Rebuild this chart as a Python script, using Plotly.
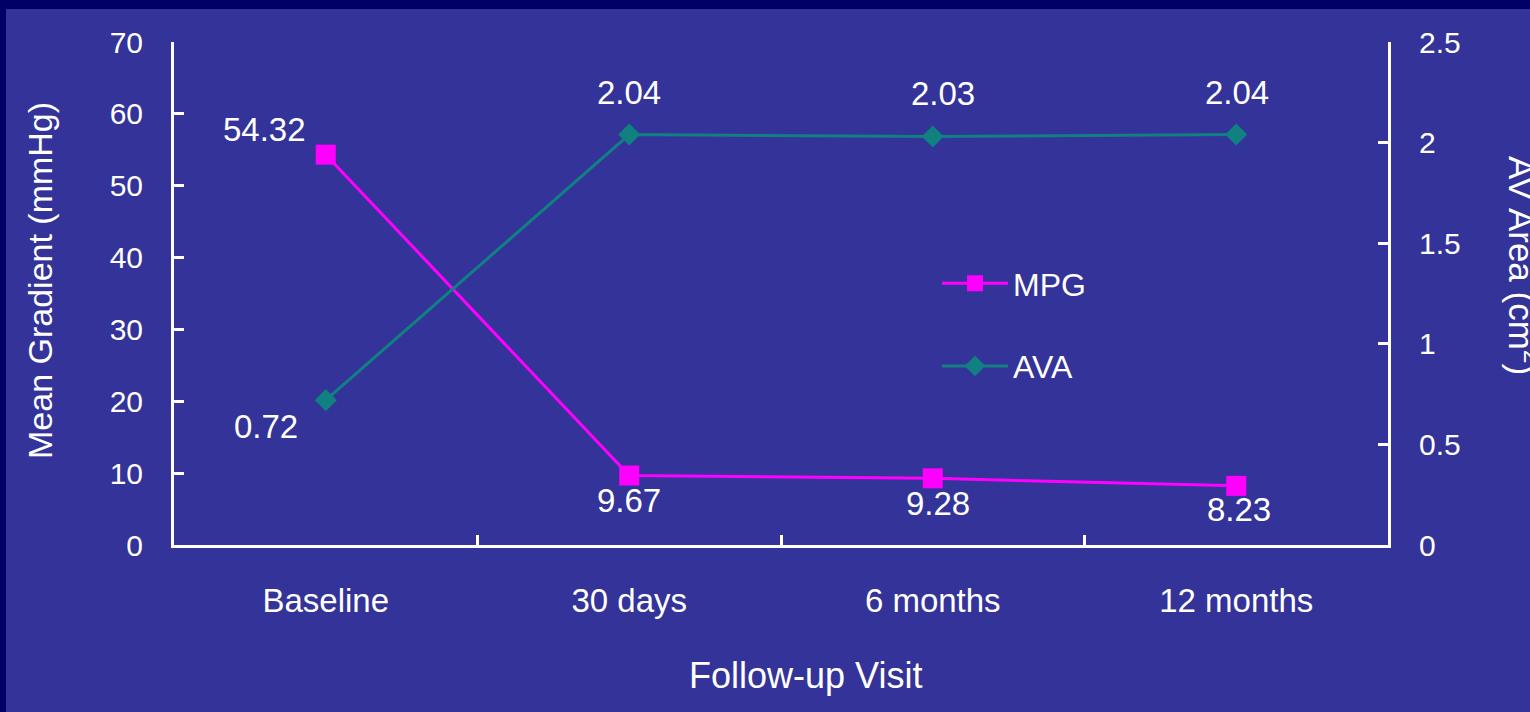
import plotly.graph_objects as go

# Follow-up data
visits = ["Baseline", "30 days", "6 months", "12 months"]
mpg = [54.32, 9.67, 9.28, 8.23]      # mean pressure gradient, mmHg
ava = [0.72, 2.04, 2.03, 2.04]       # aortic valve area, cm^2
mpg_ticks = [0, 10, 20, 30, 40, 50, 60, 70]
ava_ticks = [0, 0.5, 1, 1.5, 2, 2.5]
ava_tick_text = ["0", "0.5", "1", "1.5", "2", "2.5"]

BG = "#333399"
FRAME = "#000066"
MAGENTA = "#FF00FF"
TEAL = "#108080"
FONT = "Liberation Sans, Arial, sans-serif"

W, H = 1530, 712
L, R, T, B = 174, 142, 42, 167
PW, PH = W - L - R, H - T - B

# value-label offsets (pixels) for each point
mpg_label_shift = [(-61, 25), (0, -25), (5, -25), (3, -24)]
ava_label_shift = [(-60, -26), (0, 42), (10, 43), (1, 42)]


def fnt(size):
    return dict(family=FONT, color="white", size=size)


fig = go.Figure()
fig.add_trace(go.Scatter(
    x=visits, y=mpg, name="MPG", mode="lines+markers",
    line=dict(color=MAGENTA, width=3),
    marker=dict(symbol="square", size=20, color=MAGENTA),
    legendgroup="a", yaxis="y", cliponaxis=False,
))
fig.add_trace(go.Scatter(
    x=visits, y=ava, name="AVA", mode="lines+markers",
    line=dict(color=TEAL, width=3),
    marker=dict(symbol="diamond", size=17, color=TEAL),
    legendgroup="b", yaxis="y2", cliponaxis=False,
))

annotations = []
for cat, v, (dx, dy) in zip(visits, mpg, mpg_label_shift):
    annotations.append(dict(x=cat, y=v, xref="x", yref="y", text=f"{v:.2f}",
                            showarrow=False, xshift=dx, yshift=dy, font=fnt(33)))
for cat, v, (dx, dy) in zip(visits, ava, ava_label_shift):
    annotations.append(dict(x=cat, y=v, xref="x", yref="y2", text=f"{v:.2f}",
                            showarrow=False, xshift=dx, yshift=dy, font=fnt(33)))

annotations += [
    dict(text="Mean Gradient (mmHg)", xref="paper", yref="paper",
         x=(40 - L) / PW, y=(545 - 281) / PH, textangle=-90, showarrow=False,
         xanchor="center", yanchor="middle", font=fnt(34)),
    dict(text="AV Area (cm<sup>2</sup>)", xref="paper", yref="paper",
         x=(1524 - L) / PW, y=(545 - 265) / PH, textangle=90, showarrow=False,
         xanchor="center", yanchor="middle", font=fnt(35)),
    dict(text="Follow-up Visit", xref="paper", yref="paper",
         x=(805 - L) / PW, y=(545 - 675) / PH, showarrow=False,
         xanchor="center", yanchor="middle", font=fnt(36)),
]

axis_common = dict(
    showline=True, linecolor="white", linewidth=3,
    ticks="inside", tickcolor="white", tickwidth=3, ticklen=10,
    showgrid=False, zeroline=False,
)

fig.update_layout(
    width=W, height=H,
    margin=dict(l=L, r=R, t=T, b=B),
    paper_bgcolor=BG, plot_bgcolor=BG,
    font=fnt(30),
    showlegend=True,
    legend=dict(
        x=(937 - L) / PW, y=(545 - 256) / PH, xanchor="left", yanchor="top",
        bgcolor="rgba(0,0,0,0)", font=fnt(32),
        tracegroupgap=38, itemwidth=66,
    ),
    xaxis=dict(
        **axis_common, type="category", range=[-0.5, 3.5],
        tickson="boundaries", ticklabelstandoff=24, tickfont=fnt(33),
    ),
    yaxis=dict(
        **axis_common, range=[0, 70], tickvals=mpg_ticks,
        ticklabelstandoff=22, tickfont=fnt(30),
    ),
    yaxis2=dict(
        **axis_common, range=[0, 2.5], tickvals=ava_ticks, ticktext=ava_tick_text,
        overlaying="y", side="right", ticklabelstandoff=22, tickfont=fnt(30),
    ),
    shapes=[
        # dark frame strips along the top and left edges
        dict(type="rect", xref="paper", yref="paper", layer="below",
             x0=-L / PW, x1=(W - L) / PW, y0=(PH + T - 9) / PH, y1=(PH + T) / PH,
             fillcolor=FRAME, line=dict(width=0)),
        dict(type="rect", xref="paper", yref="paper", layer="below",
             x0=-L / PW, x1=(6 - L) / PW, y0=-B / PH, y1=(PH + T) / PH,
             fillcolor=FRAME, line=dict(width=0)),
    ],
    annotations=annotations,
)

fig.write_html("out.html")
